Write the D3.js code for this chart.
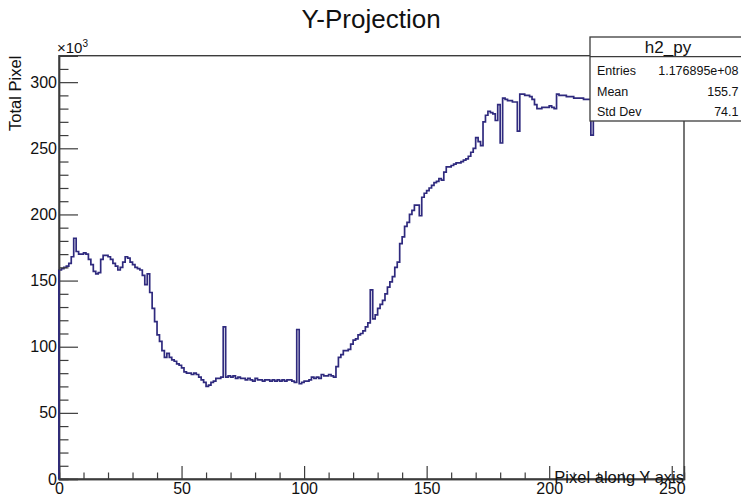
<!DOCTYPE html>
<html>
<head>
<meta charset="utf-8">
<script src="https://cdn.jsdelivr.net/npm/d3@7"></script>
<style>
  html, body { margin: 0; padding: 0; background: #fff; }
  svg { display: block; font-family: "Liberation Sans", Arial, Helvetica, sans-serif; }
</style>
</head>
<body>
<svg id="chart" width="741" height="498"></svg>
<script>
// Bin contents of the Y projection, in units of 10^3 (one bin per pixel row, 0..254)
const binCounts = [
  158, 159, 160, 161, 163, 168, 182, 172, 170, 170,
  171, 170, 166, 162, 157, 155, 156, 166, 169, 169,
  168, 166, 163, 161, 158, 160, 164, 168, 167, 164,
  162, 160, 159, 158, 154, 147, 155, 141, 129, 119,
  109, 104, 97, 92, 95, 92, 90, 89, 87, 86,
  84, 81, 80, 80, 79, 80, 79, 77, 75, 73,
  70, 71, 73, 74, 76, 76, 77, 115, 77, 78,
  77, 78, 76, 77, 76, 76, 75, 76, 75, 74,
  76, 75, 75, 74, 75, 75, 74, 75, 74, 75,
  74, 75, 74, 75, 75, 74, 73, 113, 72, 73,
  74, 74, 75, 77, 76, 77, 76, 79, 78, 78,
  79, 78, 77, 85, 92, 94, 97, 97, 98, 102,
  105, 106, 109, 110, 112, 115, 118, 143, 121, 124,
  129, 132, 135, 140, 145, 149, 153, 160, 164, 178,
  183, 191, 194, 200, 203, 207, 207, 199, 213, 216,
  218, 220, 222, 224, 225, 227, 226, 232, 236, 236,
  237, 238, 239, 239, 240, 241, 242, 244, 247, 250,
  258, 255, 252, 270, 275, 278, 277, 276, 271, 283,
  254, 288, 287, 286, 286, 285, 285, 263, 291, 291,
  290, 290, 289, 287, 283, 280, 280, 281, 281, 281,
  282, 281, 280, 291, 290, 290, 290, 289, 289, 289,
  288, 288, 288, 288, 287, 287, 287, 260, 287, 288,
  288, 287, 289, 288, 288, 289, 290, 289, 288, 288,
  287, 288, 289, 289, 288, 287, 288, 288, 289, 288,
  287, 288, 288, 287, 286, 287, 288, 287, 286, 287,
  286, 287, 286, 285, 285
];

const xMajorTicks = [0, 50, 100, 150, 200, 250];
const xMinorTicks = [10, 20, 30, 40, 60, 70, 80, 90, 110, 120, 130, 140, 160, 170, 180, 190, 210, 220, 230, 240];
const yMajorTicks = [0, 50, 100, 150, 200, 250, 300];
const yMinorTicks = [10, 20, 30, 40, 60, 70, 80, 90, 110, 120, 130, 140, 160, 170, 180, 190, 210, 220, 230, 240, 260, 270, 280, 290, 310];

const titleText = "Y-Projection";
const xTitle = "Pixel along Y axis";
const yTitle = "Total Pixel";
const histName = "h2_py";
const statNames = ["Entries", "Mean", "Std Dev"];
const statValues = ["1.176895e+08", "155.7", "74.1"];

const svg = d3.select("#chart");
const frame = { left: 59, right: 684, top: 55.7, bottom: 479 };

const x = d3.scaleLinear().domain([0, 255]).range([frame.left, frame.right]);
const y = d3.scaleLinear().domain([0, 320]).range([frame.bottom, frame.top]);

const axisColor = "#3c3c3c";
const lineColor = "#2f2a7e";

// Frame (top and right sides; the axes supply the other two)
svg.append("rect")
  .attr("x", frame.left).attr("y", frame.top)
  .attr("width", frame.right - frame.left).attr("height", frame.bottom - frame.top)
  .attr("fill", "none").attr("stroke", axisColor).attr("stroke-width", 1.4);

// Histogram outline drawn as steps
const steps = [{ e: 0, v: 0 }];
binCounts.forEach((v, i) => steps.push({ e: i, v }));
steps.push({ e: binCounts.length, v: binCounts[binCounts.length - 1] });

const line = d3.line()
  .x(d => x(d.e))
  .y(d => y(d.v))
  .curve(d3.curveStepAfter);

svg.append("path")
  .datum(steps)
  .attr("d", line)
  .attr("fill", "none")
  .attr("stroke", lineColor)
  .attr("stroke-width", 1.7)
  .attr("stroke-linejoin", "miter");

// Axes: ticks point into the frame, as in ROOT
function styleAxis(g) {
  g.select(".domain").attr("stroke", axisColor).attr("stroke-width", 1.4);
  g.selectAll(".tick line").attr("stroke", axisColor).attr("stroke-width", 1.2);
  g.selectAll("text").attr("fill", "#111").attr("font-size", 16)
    .attr("font-family", "'Liberation Sans', Arial, sans-serif");
}

const xAxis = svg.append("g")
  .attr("transform", `translate(0,${frame.bottom})`)
  .call(d3.axisBottom(x).tickValues(xMajorTicks).tickSize(-13).tickPadding(4).tickFormat(d3.format("d")));
styleAxis(xAxis);

const xMinor = svg.append("g")
  .attr("transform", `translate(0,${frame.bottom})`)
  .call(d3.axisBottom(x).tickValues(xMinorTicks).tickSize(-6.5).tickFormat(""));
styleAxis(xMinor);

const yAxis = svg.append("g")
  .attr("transform", `translate(${frame.left},0)`)
  .call(d3.axisLeft(y).tickValues(yMajorTicks).tickSize(-19).tickPadding(2).tickFormat(d3.format("d")));
styleAxis(yAxis);

const yMinor = svg.append("g")
  .attr("transform", `translate(${frame.left},0)`)
  .call(d3.axisLeft(y).tickValues(yMinorTicks).tickSize(-9.5).tickFormat(""));
styleAxis(yMinor);

// Left edge of the histogram runs along the y axis
svg.append("line")
  .attr("x1", x(0)).attr("x2", x(0))
  .attr("y1", y(0)).attr("y2", y(binCounts[0]))
  .attr("stroke", lineColor).attr("stroke-width", 1.7);

// Exponent label for the y axis
const expo = svg.append("text")
  .attr("x", 57).attr("y", 53)
  .attr("font-size", 15).attr("fill", "#111");
expo.append("tspan").text("×10");
expo.append("tspan").attr("dy", -6).attr("font-size", 10).text("3");

// Titles
svg.append("text")
  .attr("x", 371).attr("y", 28)
  .attr("text-anchor", "middle")
  .attr("font-size", 26)
  .attr("fill", "#111")
  .text(titleText);

svg.append("text")
  .attr("transform", `translate(21,${frame.top}) rotate(-90)`)
  .attr("text-anchor", "end")
  .attr("font-size", 16.5)
  .attr("fill", "#111")
  .text(yTitle);

svg.append("text")
  .attr("x", frame.right).attr("y", 483)
  .attr("text-anchor", "end")
  .attr("font-size", 16.5)
  .attr("fill", "#111")
  .text(xTitle);

// Statistics box
const box = { left: 590, top: 37, right: 746, sep: 56.7, bottom: 121 };
const stats = svg.append("g");
stats.append("rect")
  .attr("x", box.left).attr("y", box.top)
  .attr("width", box.right - box.left).attr("height", box.bottom - box.top)
  .attr("fill", "#fff").attr("stroke", axisColor).attr("stroke-width", 1.3);
stats.append("line")
  .attr("x1", box.left).attr("x2", box.right)
  .attr("y1", box.sep).attr("y2", box.sep)
  .attr("stroke", axisColor).attr("stroke-width", 1.2);
stats.append("text")
  .attr("x", (box.left + box.right) / 2).attr("y", 53)
  .attr("text-anchor", "middle")
  .attr("font-size", 17).attr("fill", "#111")
  .text(histName);

const rowY = [74.5, 95.5, 115.5];
statNames.forEach((n, i) => {
  stats.append("text")
    .attr("x", 597).attr("y", rowY[i])
    .attr("font-size", 12.5).attr("fill", "#111")
    .text(n);
  stats.append("text")
    .attr("x", 738.5).attr("y", rowY[i])
    .attr("text-anchor", "end")
    .attr("font-size", 12.5).attr("fill", "#111")
    .text(statValues[i]);
});
</script>
</body>
</html>
